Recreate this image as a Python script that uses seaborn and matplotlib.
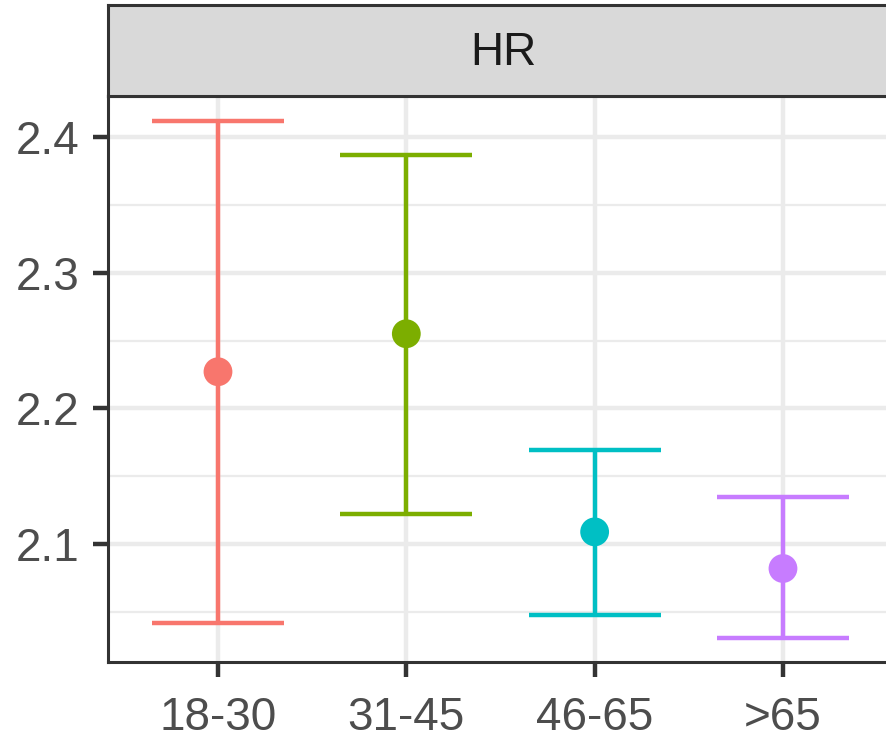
import matplotlib
matplotlib.use("Agg")
import matplotlib.pyplot as plt
import seaborn as sns
import pandas as pd
import numpy as np

categories = ["18-30", "31-45", "46-65", ">65"]
estimate = [2.227, 2.255, 2.109, 2.082]
lower = [2.042, 2.122, 2.048, 2.031]
upper = [2.412, 2.387, 2.169, 2.135]
colors = ["#F8766D", "#7CAE00", "#00BFC4", "#C77CFF"]
strip_label = "HR"
y_ticks = [2.1, 2.2, 2.3, 2.4]
y_minor = [2.05, 2.15, 2.25, 2.35]

df = pd.DataFrame({"group": categories, "est": estimate, "lo": lower, "hi": upper})

sns.set_theme(style="white")
plt.rcParams["font.family"] = ["Liberation Sans", "DejaVu Sans"]

W, H = 887, 741
fig = plt.figure(figsize=(W / 100, H / 100), dpi=100)

px_left, px_top, px_bottom = 108, 96, 662
unit = 188.33
xl = (-0.584, 3.616)
px_right = px_left + (xl[1] - xl[0]) * unit
ax = fig.add_axes([px_left / W, (H - px_bottom) / H,
                   (px_right - px_left) / W, (px_bottom - px_top) / H])
sax = fig.add_axes([px_left / W, (H - px_top) / H,
                    (px_right - px_left) / W, (px_top - 5) / H])

ax.set_facecolor("white")
pos = np.arange(len(categories))
# grid
for y in y_minor:
    ax.axhline(y, color="#EBEBEB", lw=1.6, zorder=0)
for y in y_ticks:
    ax.axhline(y, color="#EBEBEB", lw=3.2, zorder=0)
for x in pos:
    ax.axvline(x, color="#EBEBEB", lw=3.2, zorder=0)

for i, row in df.iterrows():
    ax.errorbar(i, row["est"], yerr=[[row["est"] - row["lo"]], [row["hi"] - row["est"]]],
                fmt="none", ecolor=colors[i], elinewidth=3.2, capsize=66 * 0.72,
                capthick=3.2, zorder=2)

sns.scatterplot(data=df, x="group", y="est", hue="group", palette=colors,
                s=430, edgecolor="none", legend=False, ax=ax, zorder=3)

ax.set_xlim(*xl)
ax.set_ylim(2.0131, 2.4302)
ax.set_xticks(pos)
ax.set_xticklabels(categories)
ax.set_yticks(y_ticks)
ax.set_yticklabels([f"{v:.1f}" for v in y_ticks])
ax.set_xlabel("")
ax.set_ylabel("")
ax.tick_params(axis="both", labelsize=33, labelcolor="#4D4D4D", color="#333333",
               length=10.5, width=3.2, direction="out", pad=14,
               bottom=True, left=True)
ax.tick_params(axis="y", pad=10)
for s in ax.spines.values():
    s.set_color("#333333")
    s.set_linewidth(2.2)

sax.set_facecolor("#D9D9D9")
sax.set_xticks([])
sax.set_yticks([])
for s in sax.spines.values():
    s.set_color("#333333")
    s.set_linewidth(2.2)
sax.text(0.5, 0.47, strip_label, transform=sax.transAxes, ha="center", va="center",
         fontsize=33, color="#1A1A1A")

fig.savefig("out.png", dpi=100)
